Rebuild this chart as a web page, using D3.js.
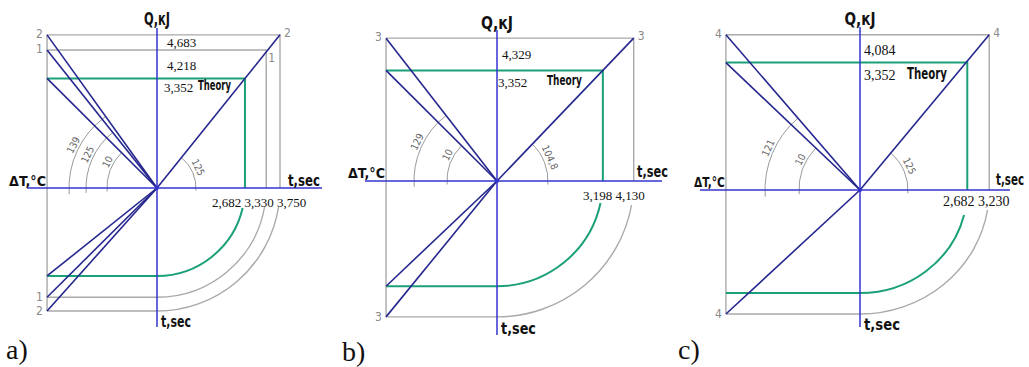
<!DOCTYPE html>
<html><head><meta charset="utf-8">
<script src="https://cdn.jsdelivr.net/npm/d3@7"></script>
<style>body{margin:0;background:#fff}svg{display:block}</style>
</head><body>
<svg id="c" width="1029" height="367"></svg>
<script>
// ---------- data ----------
const panelNames = ["a)", "b)", "c)"];
const seriesNames = [["2", "1", "Theory"], ["3", "Theory"], ["4", "Theory"]];
const qValues = [[4.683, 4.218, 3.352], [4.329, 3.352], [4.084, 3.352]];
const tValues = [[3.750, 3.330, 2.682], [4.130, 3.198], [3.230, 2.682]];
const qLabels = [["4,683", "4,218", "3,352"], ["4,329", "3,352"], ["4,084", "3,352"]];
const tLabels = [["2,682", "3,330", "3,750"], ["3,198", "4,130"], ["2,682", "3,230"]];
const deltaT = 3.352;
const leftAngleLabels = [["139", "125", "10"], ["129", "10"], ["121", "10"]];
const rightAngleLabels = ["125", "104,8", "125"];
const bottomDiagonals = [[true, true, true], [true, true], [true, false]];

// ---------- layout / style ----------
const layout = [
  {ox:157, oy:188, kx:32.8, ky:32.7, kyB:32.8, qTop:28, qBot:327, hL:27, hR:322,
   arcR:[88,71,50], rArcR:39, qLabX:[167,167,164], qLabDy:[12,20,14],
   theoryX:198, theoryDy:12, tRowX:212, tRowY:207, panelLab:[6,359],
   gaps:[19,19,20], qlabY:25, tsecRightEnd:320, tsecRightY:186, tsecBotY:327, dtY:186, fs:13,
   w:{q:26, tb:30, tr:32, dt:37, th:33}},
  {ox:497, oy:181, kx:33.1, ky:33.0, kyB:32.9, qTop:30, qBot:335, hL:365, hR:662,
   arcR:[83,50], rArcR:51, qLabX:[502,498], qLabDy:[21,17],
   theoryX:547, theoryDy:15, tRowX:583, tRowY:200, panelLab:[342,361],
   gaps:[24,22], qlabY:29, tsecRightEnd:668, tsecRightY:177, tsecBotY:334, dtY:178, fs:13,
   w:{q:32, tb:35, tr:31, dt:37, th:35}},
  {ox:860, oy:190, kx:40.0, ky:38.0, kyB:38.4, qTop:27, qBot:327, hL:700, hR:1010,
   arcR:[95,61], rArcR:48, qLabX:[864,864], qLabDy:[20,17],
   theoryX:907, theoryDy:16, tRowX:943, tRowY:206, panelLab:[678,359],
   gaps:[20,25], qlabY:25, tsecRightEnd:1024, tsecRightY:185, tsecBotY:330, dtY:187, fs:14,
   w:{q:31, tb:36, tr:28, dt:31, th:40}}
];
const C = {axis:"#3434cf", diag:"#26268f", green:"#1ba079", gray:"#a9a9a9", arc:"#9a9a9a", text:"#111", mark:"#8a8a8a"};
const narrow = "'Liberation Sans Narrow','DejaVu Sans Condensed','Arial Narrow',sans-serif";
const serif = "'Liberation Serif','DejaVu Serif',serif";

const svg = d3.select("#c");

panelNames.forEach((pname, p) => {
  const L = layout[p];
  const g = svg.append("g");
  const x = d3.scaleLinear().domain([0, 1]).range([L.ox, L.ox + L.kx]);
  const yQ = d3.scaleLinear().domain([0, 1]).range([L.oy, L.oy - L.ky]);
  const yT = d3.scaleLinear().domain([0, 1]).range([L.oy, L.oy + L.kyB]);
  const leftX = x(-deltaT);
  const n = qValues[p].length;
  const colorOf = i => seriesNames[p][i] === "Theory" ? C.green : C.gray;
  const widthOf = i => seriesNames[p][i] === "Theory" ? 2 : 1.4;

  g.append("line").attr("x1", leftX).attr("x2", leftX)
    .attr("y1", yQ(qValues[p][0])).attr("y2", yT(tValues[p][0]))
    .attr("stroke", C.gray).attr("stroke-width", 1.4);

  qValues[p].forEach((q, i) => {
    const t = tValues[p][i];
    g.append("path")
      .attr("d", `M${leftX},${yQ(q)}H${x(t)}V${L.oy}`)
      .attr("fill", "none").attr("stroke", colorOf(i)).attr("stroke-width", widthOf(i));
  });

  tValues[p].forEach((t, i) => {
    const rx = x(t) - x(0), ry = yT(t) - yT(0);
    const a0 = Math.asin(L.gaps[i] / ry);
    const ex = L.ox + rx * Math.cos(a0), ey = L.oy + ry * Math.sin(a0);
    g.append("path")
      .attr("d", `M${leftX},${yT(t)}H${L.ox}A${rx},${ry} 0 0 0 ${ex},${ey}`)
      .attr("fill", "none").attr("stroke", colorOf(i)).attr("stroke-width", widthOf(i));
  });

  qValues[p].forEach((q, i) => {
    const r = L.arcR[i];
    const phi = Math.atan2(yQ(0) - yQ(q), x(0) - leftX);
    const s = -4 * Math.PI / 180;
    const sx = L.ox - r * Math.cos(s), sy = L.oy - r * Math.sin(s);
    const exx = L.ox - r * Math.cos(phi), eyy = L.oy - r * Math.sin(phi);
    g.append("path").attr("d", `M${sx},${sy}A${r},${r} 0 0 1 ${exx},${eyy}`)
      .attr("fill", "none").attr("stroke", C.arc).attr("stroke-width", 1);
    const frac = i === n - 1 ? 0.62 : 0.5;
    const a = phi * frac, rr = r + 6;
    g.append("text")
      .attr("transform", `translate(${L.ox - rr * Math.cos(a)},${L.oy - rr * Math.sin(a)}) rotate(${-(90 - a * 180 / Math.PI)})`)
      .attr("text-anchor", "middle").attr("dominant-baseline", "central")
      .attr("font-family", narrow).attr("font-size", 10).attr("fill", "#666")
      .text(leftAngleLabels[p][i]);
  });

  {
    const r = L.rArcR;
    const phi = Math.atan2(yQ(0) - yQ(qValues[p][0]), x(tValues[p][0]) - x(0));
    const s = -4 * Math.PI / 180;
    const sx = L.ox + r * Math.cos(s), sy = L.oy - r * Math.sin(s);
    const exx = L.ox + r * Math.cos(phi), eyy = L.oy - r * Math.sin(phi);
    g.append("path").attr("d", `M${sx},${sy}A${r},${r} 0 0 0 ${exx},${eyy}`)
      .attr("fill", "none").attr("stroke", C.arc).attr("stroke-width", 1);
    const a = phi * 0.52, rr = r + 7;
    g.append("text")
      .attr("transform", `translate(${L.ox + rr * Math.cos(a)},${L.oy - rr * Math.sin(a)}) rotate(${90 - a * 180 / Math.PI})`)
      .attr("text-anchor", "middle").attr("dominant-baseline", "central")
      .attr("font-family", narrow).attr("font-size", 10).attr("fill", "#666")
      .text(rightAngleLabels[p]);
  }

  const diag = (x2, y2) => g.append("line").attr("x1", L.ox).attr("y1", L.oy)
    .attr("x2", x2).attr("y2", y2).attr("stroke", C.diag).attr("stroke-width", 1.6);
  qValues[p].forEach(q => diag(leftX, yQ(q)));
  diag(x(tValues[p][0]), yQ(qValues[p][0]));
  tValues[p].forEach((t, i) => { if (bottomDiagonals[p][i]) diag(leftX, yT(t)); });

  g.append("line").attr("x1", L.ox).attr("x2", L.ox).attr("y1", L.qTop).attr("y2", L.qBot)
    .attr("stroke", C.axis).attr("stroke-width", 1.5);
  g.append("line").attr("x1", L.hL).attr("x2", L.hR).attr("y1", L.oy).attr("y2", L.oy)
    .attr("stroke", C.axis).attr("stroke-width", 1.5);
  g.append("circle").attr("cx", L.ox).attr("cy", L.oy).attr("r", 2).attr("fill", C.axis);

  // bold condensed label: natural text horizontally scaled to the wanted width
  const bold = (txt, size, len, x0, y0) => {
    const t = g.append("text").attr("font-family", narrow).attr("font-weight", "bold")
      .attr("fill", C.text).attr("font-size", size).text(txt);
    const nat = t.node().getComputedTextLength() || len;
    t.attr("transform", `translate(${x0},${y0}) scale(${len / nat},1)`);
    return t;
  };
  bold("Q,кJ", 17, L.w.q, L.ox - L.w.q / 2, L.qlabY);
  bold("t,sec", 15, L.w.tb, L.ox + 4, L.tsecBotY);
  bold("t,sec", 16, L.w.tr, L.tsecRightEnd - L.w.tr, L.tsecRightY);
  bold("ΔT,°C", 14, L.w.dt, leftX - 1 - L.w.dt, L.dtY);

  qLabels[p].forEach((lab, i) => {
    g.append("text").attr("x", L.qLabX[i]).attr("y", yQ(qValues[p][i]) + L.qLabDy[i])
      .attr("font-family", serif).attr("font-size", L.fs).attr("fill", C.text).text(lab);
  });
  const ti = seriesNames[p].indexOf("Theory");
  bold("Theory", L.fs + 1, L.w.th, L.theoryX, yQ(qValues[p][ti]) + L.theoryDy);

  g.append("text").attr("x", L.tRowX).attr("y", L.tRowY)
    .attr("font-family", serif).attr("font-size", L.fs).attr("fill", C.text)
    .attr("xml:space", "preserve").text(tLabels[p].join(" "));

  const mark = (xx, yy, txt) => g.append("text").attr("x", xx).attr("y", yy)
    .attr("font-family", narrow).attr("font-size", 12).attr("fill", C.mark).text(txt);
  seriesNames[p].forEach((s, i) => {
    if (s === "Theory") return;
    mark(leftX - 11, yQ(qValues[p][i]) + 3, s);
    mark(leftX - 11, yT(tValues[p][i]) + 4, s);
    if (i === 0) mark(x(tValues[p][i]) + 4, yQ(qValues[p][i]) + 2, s);
    else mark(x(tValues[p][i]) + 2, yQ(qValues[p][i]) + 12, s);
  });

  g.append("text").attr("x", L.panelLab[0]).attr("y", L.panelLab[1])
    .attr("font-family", serif).attr("font-size", 28).attr("fill", C.text).text(pname);
});
</script>
</body></html>
